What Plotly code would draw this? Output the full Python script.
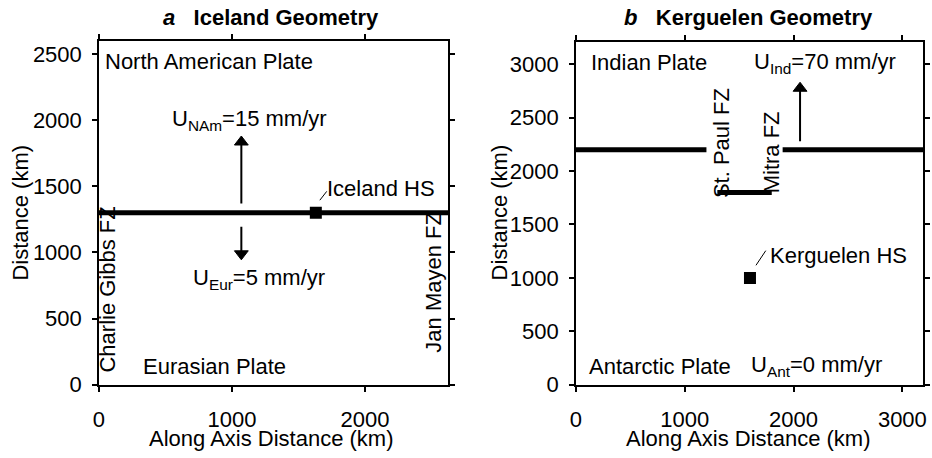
import plotly.graph_objects as go

FONT = "Liberation Sans, Arial, Helvetica, sans-serif"
FS = 22

# ---------------- Panel a: Iceland geometry ----------------
ice_ridge_x = [0, 2625]
ice_ridge_y = [1300, 1300]
ice_hs_x = [1630]
ice_hs_y = [1300]
ice_leader_x = [1660, 1712]
ice_leader_y = [1395, 1462]
ice_x_range = [0, 2625]
ice_y_range = [0, 2600]
ice_x_ticks = [0, 1000, 2000]
ice_y_ticks = [0, 500, 1000, 1500, 2000, 2500]
# arrows: (x, tail_y, head_y)
ice_arrow_x = [1070, 1070]
ice_arrow_tail = [1370, 1195]
ice_arrow_head = [1835, 990]
# labels: text, x, y, anchor, angle
ice_labels = [
    ("North American Plate", 30, 2445, "left", 0),
    ("U<sub>NAm</sub>=15 mm/yr", 535, 2004, "left", 0),
    ("Iceland HS", 1700, 1480, "left", 0),
    ("U<sub>Eur</sub>=5 mm/yr", 690, 800, "left", 0),
    ("Eurasian Plate", 315, 136, "left", 0),
    ("Charlie Gibbs FZ", 65, 717, "center", -90),
    ("Jan Mayen FZ", 2515, 776, "center", -90),
]

# ---------------- Panel b: Kerguelen geometry ----------------
ker_ridge_x = [0, 1200, None, 1300, 1800, None, 1900, 3190]
ker_ridge_y = [2200, 2200, None, 1800, 1800, None, 2200, 2200]
ker_hs_x = [1600]
ker_hs_y = [1000]
ker_leader_x = [1655, 1745]
ker_leader_y = [1118, 1255]
ker_x_range = [0, 3190]
ker_y_range = [0, 3210]
ker_x_ticks = [0, 1000, 2000, 3000]
ker_y_ticks = [0, 500, 1000, 1500, 2000, 2500, 3000]
ker_arrow_x = [2060]
ker_arrow_tail = [2280]
ker_arrow_head = [2775]
ker_labels = [
    ("Indian Plate", 120, 3018, "left", 0),
    ("U<sub>Ind</sub>=70 mm/yr", 1620, 3012, "left", 0),
    ("St. Paul FZ", 1345, 2264, "center", -90),
    ("Mitra FZ", 1800, 2173, "center", -90),
    ("Kerguelen HS", 1770, 1209, "left", 0),
    ("Antarctic Plate", 100, 173, "left", 0),
    ("U<sub>Ant</sub>=0 mm/yr", 1591, 173, "left", 0),
]

W, H = 932, 458
fig = go.Figure()

line_style = dict(color="black", width=5)


def add_panel(rx, ry, lx, ly, hx, hy, axx, axy):
    fig.add_trace(go.Scatter(x=rx, y=ry, mode="lines", line=line_style,
                             xaxis=axx, yaxis=axy, showlegend=False, hoverinfo="skip",
                             connectgaps=False))
    fig.add_trace(go.Scatter(x=lx, y=ly, mode="lines",
                             line=dict(color="black", width=1), xaxis=axx, yaxis=axy,
                             showlegend=False, hoverinfo="skip"))
    fig.add_trace(go.Scatter(x=hx, y=hy, mode="markers",
                             marker=dict(symbol="square", size=12, color="black"),
                             xaxis=axx, yaxis=axy, showlegend=False))


def add_arrows(xs, tails, heads, axx, axy):
    for x, t, h in zip(xs, tails, heads):
        fig.add_trace(go.Scatter(
            x=[x, x], y=[t, h], mode="lines+markers",
            line=dict(color="black", width=2),
            marker=dict(symbol=["circle", "triangle-up"], size=[0, 12], color="black",
                        angleref="previous", line=dict(width=1, color="black"),
                        opacity=1),
            xaxis=axx, yaxis=axy, showlegend=False, hoverinfo="skip"))


add_panel(ice_ridge_x, ice_ridge_y, ice_leader_x, ice_leader_y, ice_hs_x, ice_hs_y, "x", "y")
add_panel(ker_ridge_x, ker_ridge_y, ker_leader_x, ker_leader_y, ker_hs_x, ker_hs_y, "x2", "y2")
add_arrows(ice_arrow_x, ice_arrow_tail, ice_arrow_head, "x", "y")
add_arrows(ker_arrow_x, ker_arrow_tail, ker_arrow_head, "x2", "y2")

annotations = []


def add_labels(labels, xr, yr):
    for text, x, y, anchor, ang in labels:
        annotations.append(dict(text=text, x=x, y=y, xref=xr, yref=yr,
                                xanchor=anchor, yanchor="middle", showarrow=False,
                                textangle=ang, font=dict(family=FONT, size=FS, color="black")))


add_labels(ice_labels, "x", "y")
add_labels(ker_labels, "x2", "y2")

# titles and axis titles as paper annotations
xa_dom = [94 / W, 447 / W]
xb_dom = [576 / W, 927 / W]
ya_dom = [1 - 396 / H, 1 - 42 / H]
yb_dom = [1 - 396 / H, 1 - 43 / H]

paper_texts = [
    ("<b><i>a</i>\u00a0\u00a0\u00a0Iceland Geometry</b>", 268 / W, 1 - 18 / H, 0),
    ("<b><i>b</i>\u00a0\u00a0\u00a0Kerguelen Geometry</b>", 751 / W, 1 - 18 / H, 0),
    ("Along Axis Distance (km)", 268 / W, 1 - 451 / H, 0),
    ("Along Axis Distance (km)", 751 / W, 1 - 451 / H, 0),
    ("Distance (km)", 15 / W, 1 - 219 / H, -90),
    ("Distance (km)", 499 / W, 1 - 219 / H, -90),
]
for text, x, y, ang in paper_texts:
    annotations.append(dict(text=text, x=x, y=y, xref="paper", yref="paper",
                            xanchor="center", yanchor="middle", showarrow=False,
                            textangle=ang, font=dict(family=FONT, size=FS, color="black")))

axis_common = dict(showline=True, linecolor="black", linewidth=1.5, mirror="ticks",
                   ticks="outside", ticklen=5, tickwidth=1.5, tickcolor="black",
                   showgrid=False, zeroline=False, fixedrange=True,
                   tickfont=dict(family=FONT, size=FS, color="black"))

fig.update_layout(
    width=W, height=H,
    margin=dict(l=0, r=0, t=0, b=0),
    paper_bgcolor="white", plot_bgcolor="white",
    showlegend=False,
    xaxis=dict(domain=xa_dom, range=ice_x_range, tickvals=ice_x_ticks, anchor="y",
               ticklabelstandoff=9, **axis_common),
    yaxis=dict(domain=ya_dom, range=ice_y_range, tickvals=ice_y_ticks, anchor="x",
               ticklabelstandoff=6, **axis_common),
    xaxis2=dict(domain=xb_dom, range=ker_x_range, tickvals=ker_x_ticks, anchor="y2",
                ticklabelstandoff=9, **axis_common),
    yaxis2=dict(domain=yb_dom, range=ker_y_range, tickvals=ker_y_ticks, anchor="x2",
                ticklabelstandoff=6, **axis_common),
    annotations=annotations,
    font=dict(family=FONT, size=FS, color="black"),
)

fig.write_html("out.html")
